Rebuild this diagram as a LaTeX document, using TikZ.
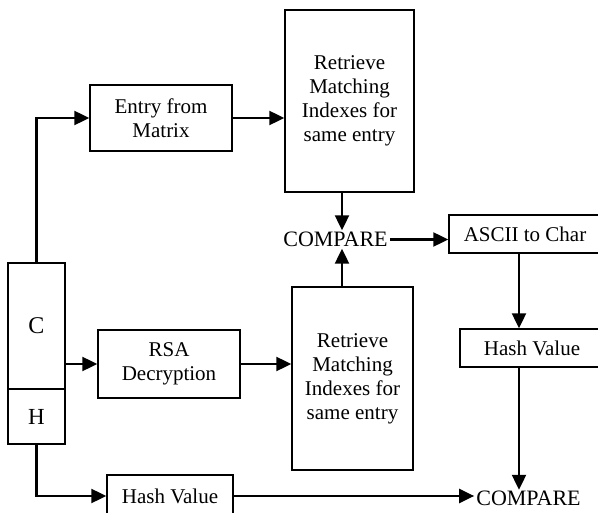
\documentclass[tikz,border=0pt]{standalone}
\usepackage{fontspec}
\setmainfont{Liberation Serif}
\usepackage{tikz}
\usetikzlibrary{positioning,calc,arrows.meta}

\tikzset{
    box/.style={draw, line width=1.4pt, align=center, inner sep=0pt},
    word/.style={inner sep=2pt, text height=14pt, text depth=0pt, font=\fontsize{22}{24}\selectfont},
    arr/.style={line width=2.2pt, -{Triangle[length=15pt,width=14pt]}}
}

\begin{document}
\begin{tikzpicture}[x=1pt, y=-1pt, font=\fontsize{21}{24}\selectfont]
                \useasboundingbox (0,0) rectangle (598,513);
                \clip (0,0) rectangle (598,513);
                % left message block
                \node[box, minimum width=57pt, minimum height=126pt, font=\fontsize{24}{26}\selectfont] (cpart) at (36.5, 326) {C};
                \node[box, minimum width=57pt, minimum height=55pt, font=\fontsize{23}{26}\selectfont] (hpart) at (36.5, 416.5) {H};
                % upper row
                \node[box, minimum width=142pt, minimum height=66pt] (entry) at (161, 118) {Entry from\\Matrix};
                \node[box, minimum width=129pt, minimum height=182pt] (retrA) at (349.5, 101) {Retrieve\\Matching\\Indexes for\\same entry};
                % middle row
                \node[box, minimum width=142pt, minimum height=68pt] (rsa) at (169, 364) {RSA\\Decryption};
                \node[box, minimum width=121pt, minimum height=183pt] (retrB) at (352.5, 378.5) {Retrieve\\Matching\\Indexes for\\same entry};
                \node[word] (cmpA) at (335.5, 239.5) {COMPARE};
                % right column
                \node[box, minimum width=152pt, minimum height=38pt] (ascii) at (525, 234) {ASCII to Char};
                \node[box, minimum width=144pt, minimum height=38pt] (hashR) at (532, 348) {Hash Value};
                \node[word] (cmpB) at (528.5, 499) {COMPARE};
                % bottom row
                \node[box, minimum width=126pt, minimum height=42pt] (hashL) at (170, 496) {Hash Value};
                \coordinate (col) at (519, 0);
                \coordinate (mid) at (342, 0);

                \draw[arr] (cpart.north) |- (entry.west);
                \draw[arr] (entry.east) -- (entry.east -| retrA.west);
                \draw[arr] (retrA.south -| mid) -- (cmpA.north -| mid);
                \draw[arr] (retrB.north -| mid) -- (cmpA.south -| mid);
                \draw[arr] (rsa.west -| cpart.east) -- (rsa.west);
                \draw[arr] (rsa.east) -- (rsa.east -| retrB.west);
                \draw[arr] (cmpA.east) -- (cmpA.east -| ascii.west);
                \draw[arr] (ascii.south -| col) -- (hashR.north -| col);
                \draw[arr] (hashR.south -| col) -- (cmpB.north -| col);
                \draw[arr] (hpart.south) |- (hashL.west);
                \draw[arr] (hashL.east) -- (hashL.east -| cmpB.west);
\end{tikzpicture}
\end{document}
